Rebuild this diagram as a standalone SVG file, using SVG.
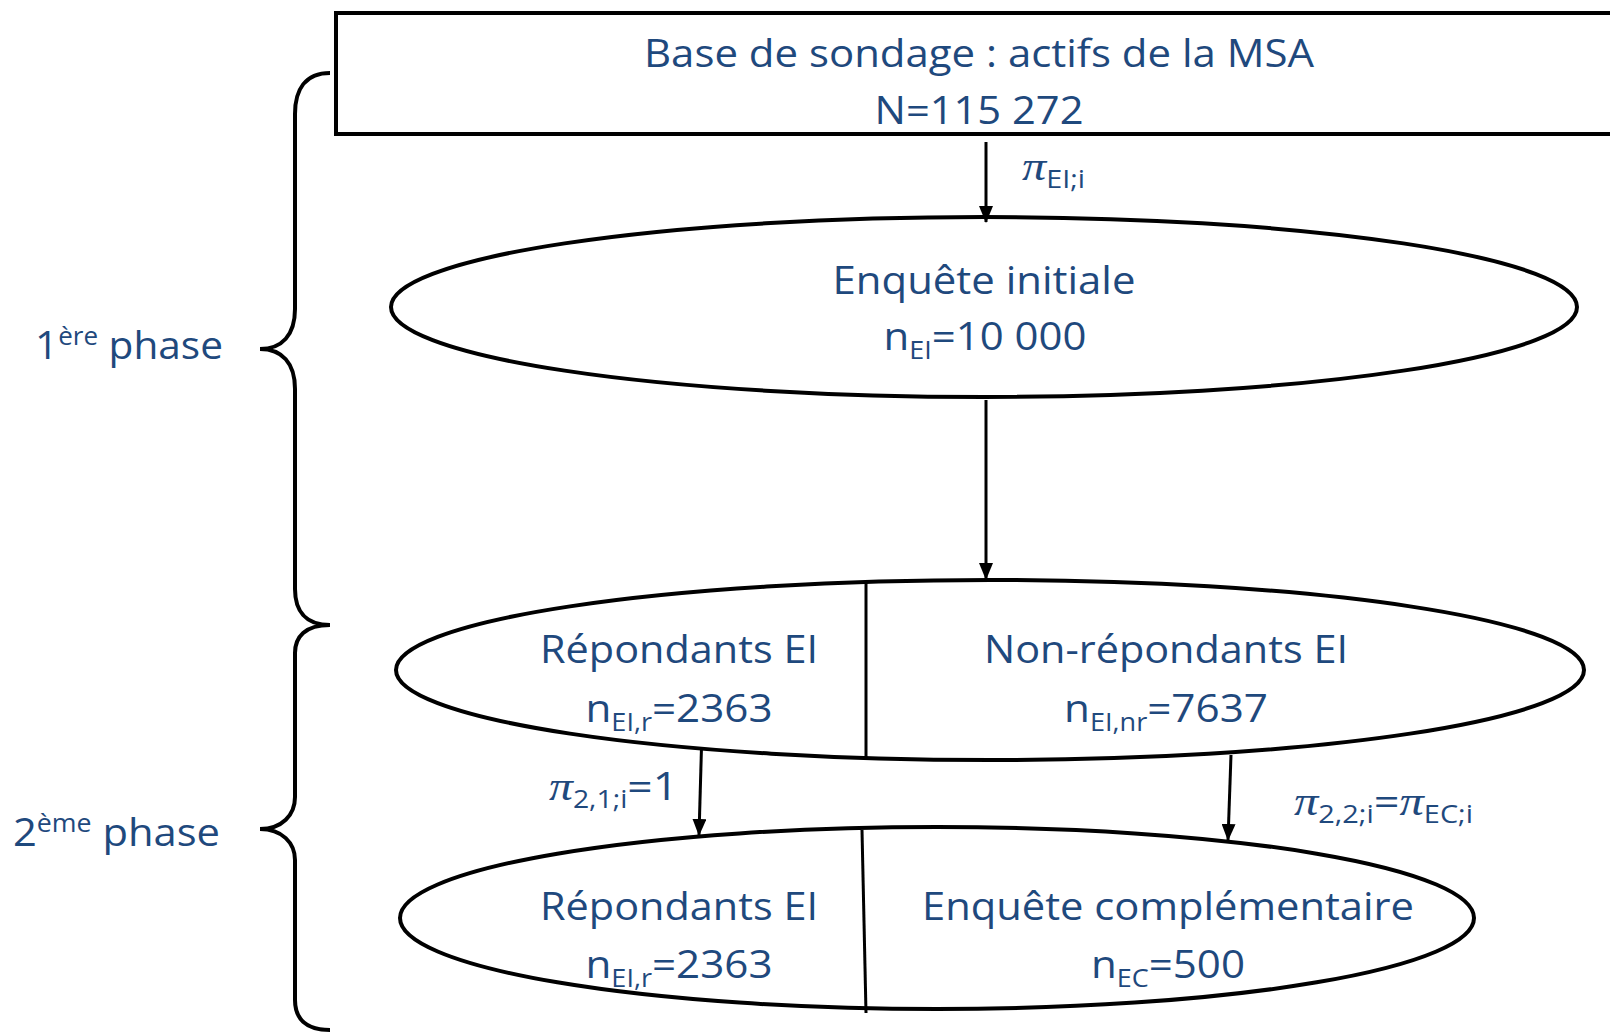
<svg xmlns="http://www.w3.org/2000/svg" width="1610" height="1032" viewBox="0 0 1610 1032">
<defs>
<marker id="ah" markerUnits="userSpaceOnUse" markerWidth="17" markerHeight="14" refX="16" refY="7" orient="auto">
<path d="M0,0 L17,7 L0,14 z" fill="#000"/>
</marker>
</defs>
<style>
.t{font-family:"Open Sans","Noto Sans",sans-serif;font-size:39px;fill:#1F497D;}
.s{font-size:25px;}
.pi{font-family:"Liberation Serif",serif;font-style:italic;font-size:42px;}
.shape{fill:none;stroke:#000;stroke-width:4;}
.div{fill:none;stroke:#000;stroke-width:3;}
.con{fill:none;stroke:#000;stroke-width:3;marker-end:url(#ah);}
</style>
<rect width="1610" height="1032" fill="#fff"/>
<g id="brace1"><path class="shape" d="M330,73 C305,73 295,90 295,114 L295,309 C295,335 282,349 260,349 C282,349 295,363 295,389 L295,589 C295,610 305,625 330,625"/></g>
<g id="brace2"><path class="shape" d="M330,625 C305,625 295,637 295,653 L295,797 C295,815 282,829 260,829 C282,829 295,843 295,860 L295,1000 C295,1018 305,1030 330,1030"/></g>
<g id="label1"><text class="t" x="35" y="359" textLength="188" lengthAdjust="spacingAndGlyphs">1<tspan class="s" dy="-14">ère</tspan><tspan dy="14"> phase</tspan></text></g>
<g id="label2"><text class="t" x="13" y="846" textLength="207" lengthAdjust="spacingAndGlyphs">2<tspan class="s" dy="-14">ème</tspan><tspan dy="14"> phase</tspan></text></g>
<g id="base">
<rect class="shape" x="336" y="13" width="1300" height="121"/>
<text class="t" x="979" y="67" text-anchor="middle" textLength="670" lengthAdjust="spacingAndGlyphs">Base de sondage : actifs de la MSA</text>
<text class="t" x="979" y="124" text-anchor="middle" textLength="209" lengthAdjust="spacingAndGlyphs">N=115 272</text>
</g>
<g id="ei">
<ellipse class="shape" cx="984" cy="307" rx="593" ry="90"/>
<text class="t" x="984" y="294" text-anchor="middle" textLength="303" lengthAdjust="spacingAndGlyphs">Enquête initiale</text>
<text class="t" x="985" y="350" text-anchor="middle" textLength="203" lengthAdjust="spacingAndGlyphs">n<tspan class="s" dy="9">EI</tspan><tspan dy="-9">=10 000</tspan></text>
</g>
<g id="split1">
<ellipse class="shape" cx="990" cy="670" rx="594" ry="90"/>
<line class="div" x1="866" y1="582" x2="866" y2="758"/>
<text class="t" x="679" y="663" text-anchor="middle" textLength="278" lengthAdjust="spacingAndGlyphs">Répondants EI</text>
<text class="t" x="679" y="722" text-anchor="middle" textLength="187" lengthAdjust="spacingAndGlyphs">n<tspan class="s" dy="9">EI,r</tspan><tspan dy="-9">=2363</tspan></text>
<text class="t" x="1166" y="663" text-anchor="middle" textLength="364" lengthAdjust="spacingAndGlyphs">Non-répondants EI</text>
<text class="t" x="1166" y="722" text-anchor="middle" textLength="204" lengthAdjust="spacingAndGlyphs">n<tspan class="s" dy="9">EI,nr</tspan><tspan dy="-9">=7637</tspan></text>
</g>
<g id="split2">
<ellipse class="shape" cx="937" cy="918" rx="537" ry="91"/>
<line class="div" x1="862" y1="830" x2="866" y2="1013"/>
<text class="t" x="679" y="920" text-anchor="middle" textLength="278" lengthAdjust="spacingAndGlyphs">Répondants EI</text>
<text class="t" x="679" y="978" text-anchor="middle" textLength="187" lengthAdjust="spacingAndGlyphs">n<tspan class="s" dy="9">EI,r</tspan><tspan dy="-9">=2363</tspan></text>
<text class="t" x="1168" y="920" text-anchor="middle" textLength="492" lengthAdjust="spacingAndGlyphs">Enquête complémentaire</text>
<text class="t" x="1168" y="978" text-anchor="middle" textLength="154" lengthAdjust="spacingAndGlyphs">n<tspan class="s" dy="9">EC</tspan><tspan dy="-9">=500</tspan></text>
</g>
<g id="connectors">
<line class="con" x1="986" y1="142" x2="986" y2="222"/>
<line class="con" x1="986" y1="400" x2="986" y2="579"/>
<line class="con" x1="701.5" y1="747" x2="699" y2="835"/>
<line class="con" x1="1231" y1="755" x2="1228" y2="840"/>
<text class="t" x="1022" y="180" textLength="63" lengthAdjust="spacingAndGlyphs"><tspan class="pi">π</tspan><tspan class="s" dy="8">EI;i</tspan></text>
<text class="t" x="549" y="800" textLength="129" lengthAdjust="spacingAndGlyphs"><tspan class="pi">π</tspan><tspan class="s" dy="8">2,1;i</tspan><tspan dy="-8">=1</tspan></text>
<text class="t" x="1294" y="815" textLength="179" lengthAdjust="spacingAndGlyphs"><tspan class="pi">π</tspan><tspan class="s" dy="8">2,2;i</tspan><tspan dy="-8">=</tspan><tspan class="pi">π</tspan><tspan class="s" dy="8">EC;i</tspan></text>
</g>
</svg>
